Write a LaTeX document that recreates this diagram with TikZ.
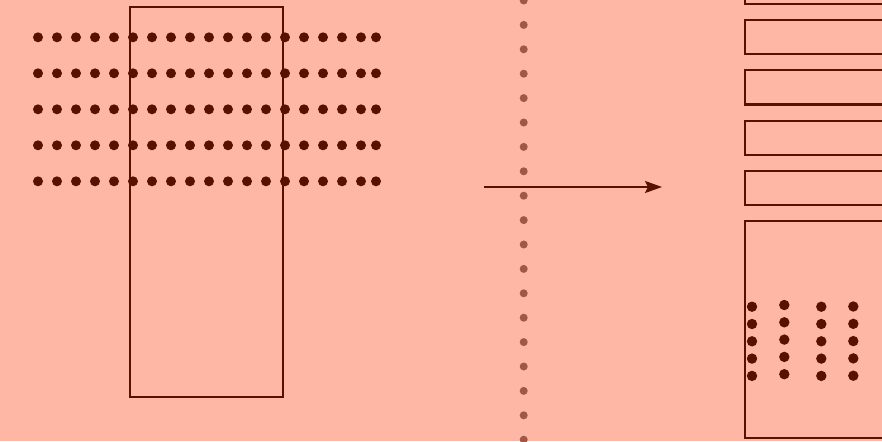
\documentclass[tikz,border=0pt]{standalone}
\usetikzlibrary{arrows.meta}
\definecolor{bgsalmon}{RGB}{255,183,165}
\definecolor{darkbrown}{RGB}{88,16,0}
\definecolor{lightbrown}{RGB}{160,88,70}
\begin{document}
\begin{tikzpicture}[x=1pt,y=-1pt,
  block/.style={draw=darkbrown,line width=2.2pt},
  griddot/.style={fill=darkbrown}]
\fill[bgsalmon] (0,0) rectangle (882,441);
\useasboundingbox (0,0) rectangle (882,441);
\clip (0,0) rectangle (882,441);
% left: rows of dots over a tall box
\draw[block] (130,7.3) rectangle (283,397);
\foreach \y in {37.3,73.3,109.3,145.3,181.3} {
  \foreach \x in {38,57,...,361} \fill[griddot] (\x,\y) circle (5pt);
  \fill[griddot] (376,\y) circle (5pt);
}
% dotted divider
\foreach \i in {0,...,18} \fill[lightbrown] (523.7,0.5+24.4*\i) circle (4pt);
% arrow
\coordinate (arrowstart) at (484,187);
\coordinate (arrowend) at (662,187);
\draw[darkbrown, line width=2.2pt, -{Stealth[length=17pt,width=12pt,inset=3pt]}] (arrowstart) -- (arrowend);
% right: stacked boxes
\foreach \t in {-30,20,70.3,120.7,171} \draw[block] (744.7,\t) rectangle (900,\t+34.3);
\draw[block] (744.7,221) rectangle (900,437.7);
\foreach \x/\y in {752/306.7,784.3/305,821.3/306.7,853.3/306.5}
  \foreach \j in {0,...,4} \fill[griddot] (\x,\y+17.3*\j) circle (5.2pt);
\end{tikzpicture}
\end{document}
